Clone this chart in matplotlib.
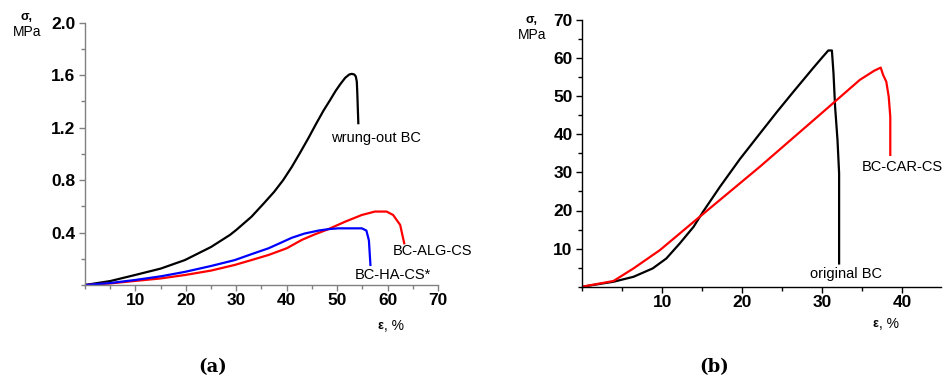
import matplotlib
matplotlib.use("Agg")
import matplotlib.pyplot as plt
from matplotlib.ticker import MultipleLocator, FixedLocator

plt.rcParams['font.family'] = ['Liberation Sans', 'DejaVu Sans']

# ---- Panel (a) data ----
wrung_x = [0, 5, 9.9, 15, 19.8, 25, 28.75, 30, 33, 35.4, 37.5, 39.3, 41, 42.6, 44.3, 45.9, 47.3, 48.6,
           49.7, 50.6, 51.6, 52.4, 52.9, 53.4, 53.7, 53.9, 54.0, 54.2]
wrung_y = [0, 0.03, 0.076, 0.125, 0.19, 0.29, 0.382, 0.42, 0.52, 0.62, 0.71, 0.80, 0.90, 1.005, 1.12, 1.234, 1.33, 1.41,
           1.48, 1.53, 1.58, 1.605, 1.61, 1.605, 1.59, 1.55, 1.46, 1.234]

alg_x = [0, 5, 9.9, 15, 19.8, 25, 29.7, 33, 36.4, 40, 43, 45.5, 48.2, 51.6, 54.9, 57.5, 59.8, 61.1, 62.5, 63.3]
alg_y = [0, 0.012, 0.031, 0.05, 0.076, 0.11, 0.153, 0.19, 0.229, 0.28, 0.344, 0.385, 0.425, 0.483, 0.534, 0.56, 0.56,
         0.534, 0.458, 0.318]

ha_x = [0, 5, 9.9, 15, 19.8, 25, 29.7, 33, 36.4, 39, 41, 43.5, 46.3, 48.3, 50.2, 54.9, 55.8, 56.3, 56.6]
ha_y = [0, 0.015, 0.038, 0.066, 0.10, 0.145, 0.19, 0.235, 0.28, 0.325, 0.36, 0.392, 0.415, 0.426, 0.432, 0.432, 0.415,
        0.34, 0.153]

# ---- Panel (b) data ----
orig_x = [0, 3.9, 6.4, 8.8, 10.5, 12.2, 13.9, 15.1, 17.2, 19.7, 22.2, 24.3, 26.4, 28.9, 30.0, 30.75, 31.2, 31.4,
          31.6, 31.9, 32.1, 32.1]
orig_y = [0, 1.3, 2.6, 4.8, 7.4, 11.4, 15.7, 19.7, 26.2, 33.5, 40.2, 45.8, 51.2, 57.5, 60.2, 62.0, 62.0, 56.0,
          47.2, 38.5, 29.8, 6.1]

car_x = [0, 3.9, 6.4, 9.7, 14.7, 22.2, 30, 34.7, 36.5, 37.3, 37.6, 38.0, 38.3, 38.5, 38.5]
car_y = [0, 1.5, 4.8, 9.6, 18.4, 31.5, 45.7, 54.3, 56.7, 57.5, 55.6, 53.8, 49.9, 44.6, 34.6]

a_xticks = [10, 20, 30, 40, 50, 60, 70]
a_yticks = [0.4, 0.8, 1.2, 1.6, 2.0]
b_xticks = [10, 20, 30, 40]
b_yticks = [10, 20, 30, 40, 50, 60, 70]

fig = plt.figure(figsize=(9.45, 3.78), dpi=100)

ax1 = fig.add_axes([85/945, 1-285/378, (438-85)/945, (285-22.7)/378])
ax2 = fig.add_axes([582.3/945, 1-286.7/378, (940.7-582.3)/945, (286.7-20)/378])

lw = 1.6
ax1.plot(wrung_x, wrung_y, color='black', lw=lw, solid_joinstyle='round')
ax1.plot(alg_x, alg_y, color='#ff0000', lw=lw, solid_joinstyle='round')
ax1.plot(ha_x, ha_y, color='#0000ff', lw=lw, solid_joinstyle='round')
ax1.set_xlim(0, 70)
ax1.set_ylim(0, 2.0)
ax1.xaxis.set_major_locator(FixedLocator(a_xticks))
ax1.yaxis.set_major_locator(FixedLocator(a_yticks))
ax1.xaxis.set_minor_locator(MultipleLocator(5))
ax1.yaxis.set_minor_locator(MultipleLocator(0.2))
ax1.set_yticklabels([f"{v:.1f}" for v in a_yticks])

ax2.plot(orig_x, orig_y, color='black', lw=lw, solid_joinstyle='round')
ax2.plot(car_x, car_y, color='#ff0000', lw=lw, solid_joinstyle='round')
ax2.set_xlim(0, 44.8)
ax2.set_ylim(0, 70)
ax2.xaxis.set_major_locator(FixedLocator(b_xticks))
ax2.yaxis.set_major_locator(FixedLocator(b_yticks))
ax2.xaxis.set_minor_locator(MultipleLocator(5))
ax2.yaxis.set_minor_locator(MultipleLocator(5))

for ax, sc in ((ax1, '#808080'), (ax2, 'black')):
    for s in ('top', 'right'):
        ax.spines[s].set_visible(False)
    for s in ('left', 'bottom'):
        ax.spines[s].set_color(sc)
        ax.spines[s].set_linewidth(1.0)
    ax.tick_params(which='major', direction='out', length=4, width=1, color=sc,
                   labelsize=12.5, pad=3)
    ax.tick_params(which='minor', direction='out', length=3, width=1, color=sc)
    ax.tick_params(axis='x', pad=2)
    for lab in ax.get_xticklabels() + ax.get_yticklabels():
        lab.set_fontweight('bold')

tfs = 10.5
ax1.text(48.7, 1.12, 'wrung-out BC', fontsize=tfs, ha='left', va='center')
ax1.text(61.0, 0.26, 'BC-ALG-CS', fontsize=tfs, ha='left', va='center')
ax1.text(53.5, 0.076, 'BC-HA-CS*', fontsize=tfs, ha='left', va='center')
ax2.text(34.9, 31.5, 'BC-CAR-CS', fontsize=tfs, ha='left', va='center')
ax2.text(28.4, 3.3, 'original BC', fontsize=tfs, ha='left', va='center')

def ftext(x, y, s, **kw):
    fig.text(x/945, 1-y/378, s, **kw)

ftext(27, 17, 'σ,', fontsize=9, fontweight='bold', ha='center', va='center')
ftext(27, 32, 'MPa', fontsize=10, ha='center', va='center')
ftext(532, 20, 'σ,', fontsize=9, fontweight='bold', ha='center', va='center')
ftext(532, 35, 'MPa', fontsize=10, ha='center', va='center')

ftext(378, 326, 'ε', fontsize=9, fontweight='bold', ha='left', va='center')
ftext(384, 326, ', %', fontsize=10, ha='left', va='center')
ftext(873, 324, 'ε', fontsize=9, fontweight='bold', ha='left', va='center')
ftext(879, 324, ', %', fontsize=10, ha='left', va='center')

ftext(213, 367, '(a)', fontsize=13, fontweight='bold', family='DejaVu Serif', ha='center', va='center')
ftext(714, 367, '(b)', fontsize=13, fontweight='bold', family='DejaVu Serif', ha='center', va='center')

fig.savefig('out.png', dpi=100)
